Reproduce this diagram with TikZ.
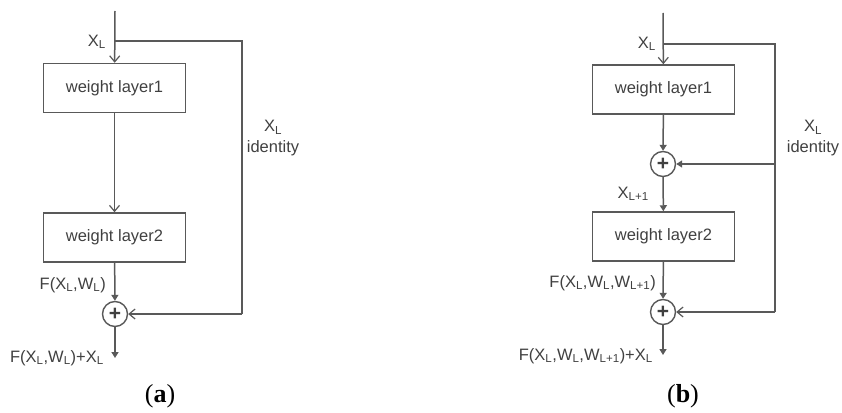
\documentclass[tikz,border=0pt]{standalone}
\usepackage{fontspec}
\setmainfont{Liberation Sans}
\newfontfamily\capfont{Liberation Serif}
\usetikzlibrary{arrows.meta}
\definecolor{ln}{HTML}{595959}
\definecolor{tx}{HTML}{404040}
\newcommand{\sbs}[1]{\textsubscript{#1}}
\begin{document}
\begin{tikzpicture}[x=1pt,y=-1pt,
  every node/.style={text=tx, font=\fontsize{16.5}{21}\selectfont},
  conn/.style={draw=ln, line width=1.5pt},
  openarr/.style={conn, -{Straight Barb[length=6pt,width=10pt,line width=1.2pt]}},
  fillarr/.style={conn, -{Triangle[length=6pt,width=7pt]}},
  box/.style={draw=ln, line width=1.5pt, minimum width=142pt, minimum height=49pt, inner sep=0pt},
  sumnode/.style={draw=ln, line width=1.4pt, circle, minimum size=25pt, inner sep=0pt, font=\fontsize{21}{21}\selectfont\bfseries},
  lbl/.style={inner sep=0pt},
  caplbl/.style={inner sep=0pt, text=black, font=\capfont\fontsize{26}{28}\selectfont}]
\useasboundingbox (0,0) rectangle (842,412);

% ---------- panel (a)
\node[box] (a1) at (114.5,88) {weight layer1};
\node[box] (a2) at (114.5,237.5) {weight layer2};
\node[sumnode] (as) at (115,314) {+};
\coordinate (ain) at (115,11);
\coordinate (abr) at (115,41);
\coordinate (ar1) at (242,41);
\coordinate (ar2) at (242,314);
\coordinate (aout) at (115,358);
\draw[openarr] (ain) -- (a1);
\draw[conn] (abr) -- (ar1) -- (ar2);
\draw[openarr] (ar2) -- (as);
\draw[openarr] (a1) -- (a2);
\draw[fillarr] (a2) -- (as);
\draw[fillarr] (as) -- (aout);
\node[lbl, anchor=east] (axl) at (106,42) {X\sbs{L}};
\node[lbl, align=center] (aid) at (273,138) {X\sbs{L}\\identity};
\node[lbl, anchor=east] (af) at (106,285) {F(X\sbs{L},W\sbs{L})};
\node[lbl, anchor=east] (afo) at (104,358) {F(X\sbs{L},W\sbs{L})+X\sbs{L}};
\node[caplbl] (capa) at (160,396) {(\textbf{a})};

% ---------- panel (b)
\node[box] (b1) at (663.5,89.5) {weight layer1};
\node[box] (b2) at (663.5,236.5) {weight layer2};
\node[sumnode] (bs1) at (663,164) {+};
\node[sumnode] (bs2) at (663,312) {+};
\coordinate (bin) at (663,13);
\coordinate (bbr) at (663,44);
\coordinate (br1) at (775,44);
\coordinate (brm) at (775,164);
\coordinate (br2) at (775,312);
\coordinate (bout) at (663,355);
\draw[openarr] (bin) -- (b1);
\draw[conn] (bbr) -- (br1) -- (br2);
\draw[fillarr] (brm) -- (bs1);
\draw[openarr] (br2) -- (bs2);
\draw[fillarr] (b1) -- (bs1);
\draw[fillarr] (bs1) -- (b2);
\draw[fillarr] (b2) -- (bs2);
\draw[fillarr] (bs2) -- (bout);
\node[lbl, anchor=east] (bxl) at (656,44) {X\sbs{L}};
\node[lbl, align=center] (bid) at (813,138) {X\sbs{L}\\identity};
\node[lbl, anchor=east] (bxl1) at (649,194) {X\sbs{L+1}};
\node[lbl, anchor=east] (bf) at (656,283) {F(X\sbs{L},W\sbs{L},W\sbs{L+1})};
\node[lbl, anchor=east] (bfo) at (653,356) {F(X\sbs{L},W\sbs{L},W\sbs{L+1})+X\sbs{L}};
\node[caplbl] (capb) at (683,396) {(\textbf{b})};
\end{tikzpicture}
\end{document}
